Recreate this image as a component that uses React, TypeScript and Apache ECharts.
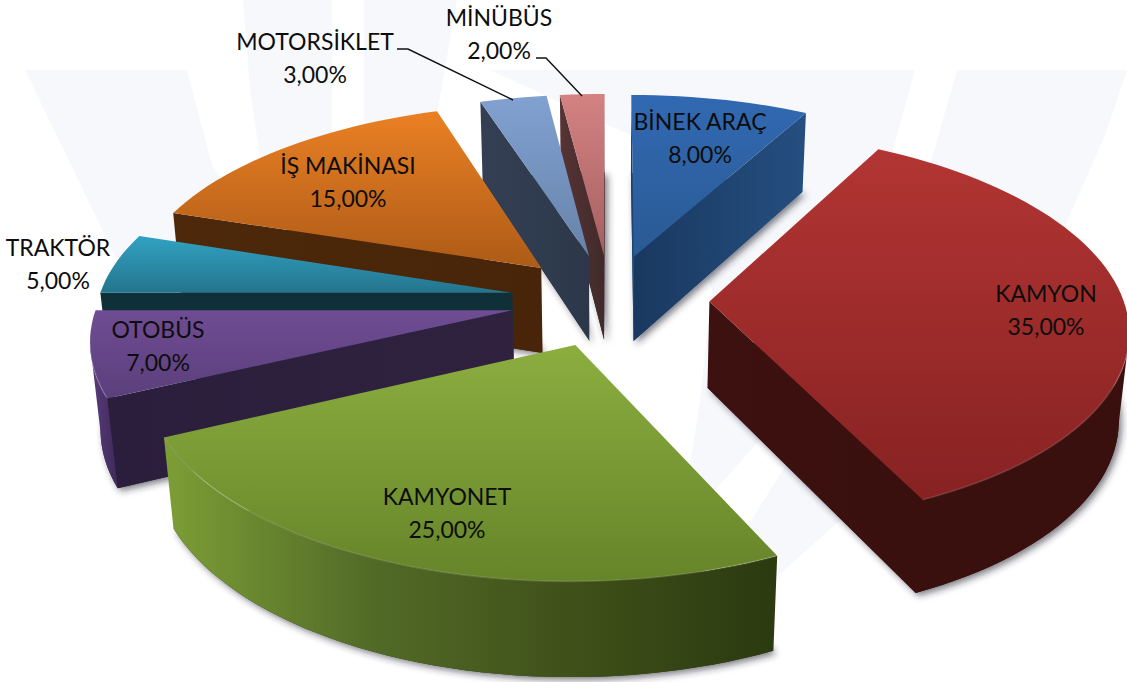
import React, { useEffect, useRef } from "react";
import * as echarts from "echarts";

const categories = ["BİNEK ARAÇ", "KAMYON", "KAMYONET", "OTOBÜS", "TRAKTÖR", "İŞ MAKİNASI", "MOTORSİKLET", "MİNÜBÜS"];
const shares = [8, 35, 25, 7, 5, 15, 3, 2];

// painting order, far slices first
const paintOrder = [7, 6, 0, 5, 4, 3, 1, 2];

const topColors = [
  ["#3169b2", "#2a5a94"], ["#b23533", "#872222"], ["#8cae40", "#668429"], ["#6f4c93", "#5b3f7c"],
  ["#31a2c2", "#24748d"], ["#ea8024", "#ad5b17"], ["#81a1d1", "#6783aa"], ["#d48282", "#a56060"],
];
const wallColors = [
  ["#193860", "#254f80"], ["#3c110f", "#3a100e"], ["#647f2c", "#2a3a0f"], ["#2a1e3c", "#30223f"],
  ["#0f2f39", "#0f2f39"], ["#4d280a", "#482509"], ["#343f54", "#2c384a"], ["#573335", "#412a2b"],
];
const rimColors = [
  ["#254f80", "#254f80"], ["#3a100e", "#3a100e"], ["#7d9e36", "#526b27", "#3f5019", "#2b3a10"], ["#5a3c7e", "#3f2a5a"],
  ["#0f2f39", "#0f2f39"], ["#4d280a", "#482509"], ["#343f54", "#2c384a"], ["#573335", "#412a2b"],
];

const labelCenters: number[][] = [
  [700, 137], [1046, 309], [447, 512], [158, 345], [58, 263.5], [348, 181], [315, 57.5], [499, 33.5],
];

const CX = 610, CY = 300, RX = 414, RY = 193, DEPTH = 88, PERSP_X = 0.13, PERSP_Y = 0.13, PERSP_D = 0.02, EXPLODE = 0.24;
const rad = (deg: number) => (deg * Math.PI) / 180;

function project(x: number, y: number, d: number) {
  const wx = 1 / (1 - PERSP_X * y + PERSP_D * d);
  const wy = 1 / (1 - PERSP_Y * y + PERSP_D * d);
  return [CX + RX * x * wx, CY + (RY * y + DEPTH * d) * wy];
}

const total = shares.reduce((a, b) => a + b, 0);
function sliceAngles(i: number) {
  let sum = 0;
  for (let k = 0; k < i; k++) sum += shares[k];
  return [(sum / total) * 360, ((sum + shares[i]) / total) * 360];
}

function sliceGeometry(i: number) {
  const [a0, a1] = sliceAngles(i);
  const mid = rad((a0 + a1) / 2);
  const ox = EXPLODE * Math.sin(mid), oy = -EXPLODE * Math.cos(mid);
  const steps = Math.max(2, Math.ceil((a1 - a0) / 2));
  const rim = (d: number) => {
    const pts: number[][] = [];
    for (let s = 0; s <= steps; s++) {
      const t = rad(a0 + ((a1 - a0) * s) / steps);
      pts.push(project(ox + Math.sin(t), oy - Math.cos(t), d));
    }
    return pts;
  };
  return { apexTop: project(ox, oy, 0), apexBot: project(ox, oy, 1), rimTop: rim(0), rimBot: rim(1) };
}

const grad = (c: string[], vertical: boolean) =>
  new echarts.graphic.LinearGradient(
    0, 0, vertical ? 0 : 1, vertical ? 1 : 0,
    c.map((color, k) => ({ offset: k / (c.length - 1), color }))
  );

function renderSlice(_params: any, api: any) {
  const i = api.value(0);
  const g = sliceGeometry(i);
  const children: any[] = [];
  const poly = (points: number[][], style: any) => ({ type: "polygon", shape: { points }, style, silent: true });
  // soft shadow under the slice
  children.push(
    poly([g.apexBot, ...g.rimBot], {
      fill: wallColors[i][1],
      shadowBlur: 7,
      shadowColor: "rgba(40,40,50,0.6)",
      shadowOffsetX: 3,
      shadowOffsetY: 3,
    })
  );
  const n = g.rimTop.length - 1;
  const first = g.rimTop[0], last = g.rimTop[n];
  // radial walls that face the viewer
  if (first[0] < g.apexTop[0])
    children.push(poly([g.apexTop, first, g.rimBot[0], g.apexBot], { fill: grad(wallColors[i], false) }));
  if (g.apexTop[0] < last[0])
    children.push(poly([last, g.apexTop, g.apexBot, g.rimBot[n]], { fill: grad(wallColors[i], false) }));
  // outer wall, front part only
  const top: number[][] = [], bot: number[][] = [];
  for (let s = 0; s < n; s++) {
    if (g.rimTop[s + 1][0] < g.rimTop[s][0]) {
      if (!top.length) { top.push(g.rimTop[s]); bot.push(g.rimBot[s]); }
      top.push(g.rimTop[s + 1]);
      bot.push(g.rimBot[s + 1]);
    }
  }
  if (top.length) children.push(poly([...top, ...[...bot].reverse()], { fill: grad(rimColors[i], false) }));
  // top face
  children.push(poly([g.apexTop, ...g.rimTop], { fill: grad(topColors[i], true) }));
  // bevel highlight along the front rim
  if (top.length)
    children.push({
      type: "polyline",
      silent: true,
      shape: { points: top },
      style: { stroke: "rgba(255,255,255,0.14)", lineWidth: 1.6, fill: "none" },
    });
  // label
  const v = api.value(1) as number;
  const [lx, ly] = labelCenters[i];
  children.push({
    type: "text",
    silent: true,
    z2: 100,
    style: {
      text: `${categories[i]}\n${v.toFixed(2).replace(".", ",")}%`,
      x: lx,
      y: ly,
      fill: "#0d0d0d",
      font: '23px "Lato"',
      lineHeight: 33,
      align: "center",
      verticalAlign: "middle",
    },
  });
  return { type: "group", children };
}

const mark = "#f7f8fc";
const watermark: number[][][] = [
  [[25, 70], [187, 70], [212, 165], [300, 300], [118, 262]],
  [[243, 0], [332, 0], [332, 170], [262, 170], [250, 90]],
  [[364, 0], [457, 0], [435, 125], [364, 140]],
  [[490, 70], [915, 70], [893, 150], [855, 270], [757, 443], [680, 530], [700, 400], [712, 290], [680, 200], [630, 135]],
  [[957, 70], [1127, 70], [1105, 135], [1070, 215], [1000, 370], [900, 470], [837, 523], [773, 580], [745, 530], [783, 470], [880, 300], [930, 165]],
];
const leaders: number[][][] = [
  [[397, 49], [408, 49], [513, 100]],
  [[536, 58], [546, 58], [582, 96]],
];

export default function App() {
  const ref = useRef<HTMLDivElement>(null);
  useEffect(() => {
    const chart = echarts.init(ref.current!, undefined, { renderer: "svg" });
    chart.setOption({
      animation: false,
      backgroundColor: "#ffffff",
      graphic: {
        elements: [
          ...watermark.map((points) => ({
            type: "polygon", silent: true, z: -10, shape: { points }, style: { fill: mark },
          })),
          ...leaders.map((points) => ({
            type: "polyline", silent: true, z: 50, shape: { points }, style: { stroke: "#111", lineWidth: 1.4, fill: "none" },
          })),
        ],
      },
      series: [
        {
          type: "custom",
          coordinateSystem: "none",
          z: 2,
          renderItem: renderSlice,
          data: paintOrder.map((i) => [i, shares[i]]),
        },
      ],
    });
    return () => chart.dispose();
  }, []);
  return <div ref={ref} style={{ position: "absolute", left: 0, top: 0, width: 1127, height: 682 }} />;
}
